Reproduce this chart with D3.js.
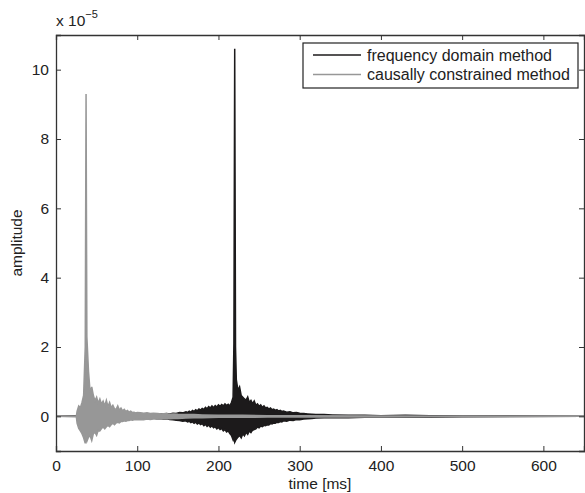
<!DOCTYPE html>
<html>
<head>
<meta charset="utf-8">
<script src="https://cdn.jsdelivr.net/npm/d3@7"></script>
<style>
  body { margin: 0; background: #fff; }
  svg text { font-family: "Liberation Sans", Arial, sans-serif; fill: #222; }
  .axis path, .axis line { stroke: #333; }
</style>
</head>
<body>
<div id="chart"></div>
<script>
/***** Data (amplitude x 1e-5, min/max per time bin) *****/
const xTicks = [0, 100, 200, 300, 400, 500, 600];
const yTicks = [0, 2, 4, 6, 8, 10];
const seriesNames = ["frequency domain method", "causally constrained method"];

// [time ms, max, min]
const freqDomain = [
  [0, 0, 0], [100, 0.03, -0.03], [104, 0.04, -0.05], [108, 0.03, -0.04], [112, 0.05, -0.05],
  [116, 0.04, -0.06], [120, 0.06, -0.05], [124, 0.05, -0.07], [128, 0.07, -0.06], [132, 0.06, -0.08],
  [136, 0.08, -0.07], [140, 0.07, -0.09], [144, 0.09, -0.1], [148, 0.08, -0.11], [152, 0.11, -0.12],
  [156, 0.1, -0.14], [160, 0.13, -0.13], [162, 0.11, -0.16], [164, 0.15, -0.14], [166, 0.12, -0.18],
  [168, 0.17, -0.16], [170, 0.14, -0.2], [172, 0.19, -0.17], [174, 0.16, -0.22], [176, 0.21, -0.19],
  [178, 0.18, -0.24], [180, 0.23, -0.21], [182, 0.2, -0.27], [184, 0.26, -0.23], [186, 0.22, -0.29],
  [188, 0.28, -0.25], [190, 0.24, -0.31], [192, 0.3, -0.27], [194, 0.25, -0.33], [196, 0.31, -0.3],
  [198, 0.27, -0.36], [200, 0.33, -0.32], [202, 0.29, -0.38], [204, 0.34, -0.35], [206, 0.3, -0.42],
  [208, 0.36, -0.38], [210, 0.31, -0.45], [212, 0.35, -0.42], [214, 0.3, -0.5], [216, 0.4, -0.55],
  [218, 0.55, -0.68], [219, 2.1, -0.6], [220, 10.6, -0.75], [221, 2.0, -0.7], [222, 1.05, -0.66],
  [224, 0.75, -0.6], [226, 0.85, -0.55], [228, 0.6, -0.62], [230, 0.55, -0.5], [232, 0.5, -0.56],
  [234, 0.47, -0.46], [236, 0.56, -0.52], [238, 0.4, -0.42], [240, 0.46, -0.47], [242, 0.36, -0.4],
  [244, 0.44, -0.38], [246, 0.32, -0.36], [248, 0.36, -0.31], [250, 0.29, -0.33], [252, 0.33, -0.28],
  [254, 0.26, -0.3], [256, 0.3, -0.26], [258, 0.24, -0.27], [260, 0.26, -0.24], [262, 0.21, -0.25],
  [264, 0.24, -0.21], [266, 0.19, -0.22], [268, 0.21, -0.19], [270, 0.17, -0.2], [272, 0.19, -0.17],
  [274, 0.15, -0.18], [276, 0.17, -0.15], [278, 0.14, -0.16], [280, 0.15, -0.13], [284, 0.12, -0.14],
  [288, 0.13, -0.11], [292, 0.1, -0.12], [296, 0.11, -0.09], [300, 0.09, -0.1], [305, 0.08, -0.08],
  [310, 0.07, -0.07], [315, 0.06, -0.06], [320, 0.05, -0.05], [330, 0.05, -0.04], [340, 0.04, -0.04],
  [360, 0.03, -0.04], [380, 0.03, -0.03], [400, 0.02, -0.03], [430, 0.03, -0.02], [460, 0.02, -0.03],
  [500, 0.01, -0.01], [650, 0, 0]
];

const causal = [
  [0, 0, 0], [25, 0, 0], [26, 0.15, -0.2], [28, 0.3, -0.35], [30, 0.25, -0.42], [32, 0.4, -0.5],
  [34, 0.6, -0.62], [36, 2.0, -0.78], [37, 9.3, -0.55], [38, 2.3, -0.72], [40, 1.3, -0.6],
  [42, 0.7, -0.56], [44, 0.85, -0.7], [46, 0.6, -0.5], [48, 0.45, -0.46], [50, 0.55, -0.55],
  [52, 0.38, -0.4], [54, 0.5, -0.42], [56, 0.35, -0.35], [58, 0.44, -0.31], [60, 0.3, -0.36],
  [62, 0.46, -0.3], [64, 0.28, -0.26], [66, 0.4, -0.3], [68, 0.25, -0.24], [70, 0.32, -0.2],
  [72, 0.22, -0.24], [74, 0.2, -0.19], [76, 0.3, -0.17], [78, 0.18, -0.19], [80, 0.24, -0.15],
  [82, 0.16, -0.15], [84, 0.2, -0.13], [86, 0.14, -0.14], [88, 0.17, -0.12], [90, 0.12, -0.12],
  [92, 0.15, -0.1], [94, 0.11, -0.11], [96, 0.12, -0.1], [98, 0.1, -0.09], [100, 0.11, -0.1],
  [104, 0.1, -0.09], [108, 0.09, -0.1], [112, 0.1, -0.08], [116, 0.08, -0.09], [120, 0.09, -0.08],
  [125, 0.08, -0.08], [130, 0.07, -0.07], [135, 0.08, -0.06], [140, 0.06, -0.07], [145, 0.07, -0.06],
  [150, 0.06, -0.06], [160, 0.05, -0.05], [170, 0.05, -0.04], [180, 0.04, -0.04], [200, 0.03, -0.03],
  [230, 0.03, -0.03], [260, 0.02, -0.02], [300, 0.02, -0.02], [400, 0.01, -0.02], [650, 0, 0]
];

/***** Layout *****/
const W = 585, H = 493;
const m = { left: 56, right: 1, top: 35, bottom: 42 };
const iw = W - m.left - m.right, ih = H - m.top - m.bottom;
const FS = "15.5px";

const x = d3.scaleLinear().domain([0, 650]).range([0, iw]);
const y = d3.scaleLinear().domain([-1, 11]).range([ih, 0]);

const svg = d3.select("#chart").append("svg")
  .attr("width", W).attr("height", H);
const g = svg.append("g").attr("transform", `translate(${m.left},${m.top})`);

g.append("clipPath").attr("id", "clip")
  .append("rect").attr("width", iw).attr("height", ih);

// min/max envelope of each trace, filled, with a stroke so spikes stay visible
const band = d3.area()
  .x(d => x(d[0]))
  .y0(d => y(d[2]))
  .y1(d => y(d[1]));

const plot = g.append("g").attr("clip-path", "url(#clip)");
const colors = ["#1c1a1b", "#979797"];
[freqDomain, causal].forEach((s, i) => {
  plot.append("path").attr("d", band(s))
    .attr("fill", colors[i]).attr("stroke", colors[i]).attr("stroke-width", 1.5);
});

/***** Axes (MATLAB style: inward ticks, full box) *****/
const fmt = d3.format("d");
g.append("g").attr("class", "axis").attr("transform", `translate(0,${ih})`)
  .call(d3.axisBottom(x).tickValues(xTicks).tickFormat(fmt).tickSize(-5).tickPadding(9))
  .call(a => a.selectAll("text").style("font-size", FS));
g.append("g").attr("class", "axis")
  .call(d3.axisTop(x).tickValues(xTicks).tickFormat("").tickSize(-5));
g.append("g").attr("class", "axis")
  .call(d3.axisLeft(y).tickValues(yTicks).tickFormat(fmt).tickSize(-5).tickPadding(7))
  .call(a => a.selectAll("text").style("font-size", FS));
g.append("g").attr("class", "axis").attr("transform", `translate(${iw},0)`)
  .call(d3.axisRight(y).tickValues(yTicks).tickFormat("").tickSize(-5));
g.selectAll(".axis path").attr("stroke-width", 1.3);

/***** Labels *****/
svg.append("text").attr("x", m.left + iw / 2).attr("y", 489)
  .attr("text-anchor", "middle").style("font-size", FS).text("time [ms]");
svg.append("text").attr("transform", `translate(22,${m.top + ih / 2}) rotate(-90)`)
  .attr("text-anchor", "middle").style("font-size", FS).text("amplitude");
const ex = svg.append("text").attr("x", 56).attr("y", 26).style("font-size", FS);
ex.append("tspan").text("x 10");
ex.append("tspan").attr("dy", -8).style("font-size", "11px").text("\u22125");

/***** Legend *****/
const lg = svg.append("g").attr("transform", "translate(303,43)");
lg.append("rect").attr("width", 275).attr("height", 45)
  .attr("fill", "#fff").attr("stroke", "#222").attr("stroke-width", 1.2);
seriesNames.forEach((n, i) => {
  const yy = 12 + i * 19.5;
  lg.append("line").attr("x1", 10).attr("x2", 58).attr("y1", yy).attr("y2", yy)
    .attr("stroke", colors[i]).attr("stroke-width", 1.3);
  lg.append("text").attr("x", 64).attr("y", yy + 5.5).style("font-size", "16px").text(n);
});
</script>
</body>
</html>
